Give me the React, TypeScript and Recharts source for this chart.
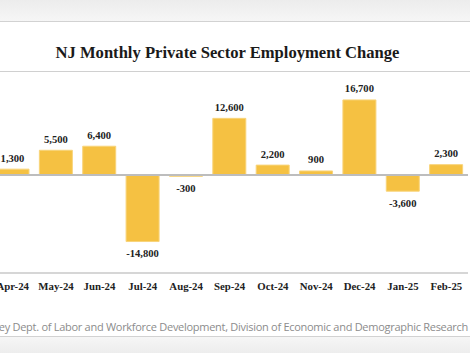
import React from 'react';
import { BarChart, Bar, XAxis, YAxis, ReferenceLine, LabelList } from 'recharts';

const months = ['Apr-24', 'May-24', 'Jun-24', 'Jul-24', 'Aug-24', 'Sep-24', 'Oct-24', 'Nov-24', 'Dec-24', 'Jan-25', 'Feb-25'];
const change = [1300, 5500, 6400, -14800, -300, 12600, 2200, 900, 16700, -3600, 2300];

const title = 'NJ Monthly Private Sector Employment Change';
const source = 'Source: New Jersey Dept. of Labor and Workforce Development, Division of Economic and Demographic Research';

const data = months.map((month, i) => ({ month, value: change[i] }));

const serif = '"Liberation Serif", "DejaVu Serif", serif';

// value label above positive bars, below negative ones
const ValueLabel = (props: any) => {
    const { x = 0, y = 0, width = 0, height = 0, value } = props;
    const v = Number(value);
    const cx = x + width / 2;
    const top = Math.min(y, y + height);
    const bottom = Math.max(y, y + height);
    const ty = v >= 0 ? top - 11 : bottom + 12;
    return (
        <text
            x={cx}
            y={ty}
            textAnchor="middle"
            dominantBaseline="central"
            fontFamily={serif}
            fontWeight="bold"
            fontSize={10.6}
            fill="#222"
        >
            {v.toLocaleString('en-US')}
        </text>
    );
};

export default function App() {
    return (
        <div
            style={{
                position: 'absolute',
                left: 0,
                top: 0,
                width: 470,
                height: 353,
                overflow: 'hidden',
                background: '#fff',
            }}
        >
            {/* top page band */}
            <div style={{ position: 'absolute', left: 0, top: 0, width: 470, height: 21, background: 'linear-gradient(#ececec, #f6f6f6)' }} />
            <div style={{ position: 'absolute', left: 0, top: 21, width: 470, height: 1, background: '#d2d2d2' }} />

            <div
                style={{
                    position: 'absolute',
                    left: 0,
                    top: 43,
                    width: 455,
                    textAlign: 'center',
                    fontFamily: serif,
                    fontWeight: 'bold',
                    fontSize: 16.6,
                    color: '#1a1a1a',
                    whiteSpace: 'nowrap',
                }}
            >
                {title}
            </div>
            <div style={{ position: 'absolute', left: 0, top: 71, width: 470, height: 1, background: '#d0d0d0' }} />

            <div style={{ position: 'absolute', left: -9, top: 0 }}>
                <BarChart
                    width={477}
                    height={303}
                    data={data}
                    margin={{ top: 77, right: 0, bottom: 0, left: 0 }}
                    barCategoryGap={0}
                >
                    <YAxis hide domain={[-21800, 21800]} />
                    <XAxis
                        dataKey="month"
                        height={30}
                        axisLine={{ stroke: '#c8c8c8', strokeWidth: 1.5 }}
                        tickLine={false}
                        tickSize={0}
                        tickMargin={9}
                        interval={0}
                        tick={{ fontFamily: serif, fontWeight: 'bold', fontSize: 10.8, fill: '#222' }}
                    />
                    <Bar dataKey="value" fill="#F5C142" stroke="#F8D47A" strokeWidth={1} barSize={33} isAnimationActive={false}>
                        <LabelList dataKey="value" content={<ValueLabel />} />
                    </Bar>
                    <ReferenceLine y={0} stroke="#bdbdbd" strokeWidth={2} />
                </BarChart>
            </div>

            <div
                style={{
                    position: 'absolute',
                    right: 2,
                    top: 319,
                    whiteSpace: 'nowrap',
                    fontFamily: '"Open Sans", sans-serif',
                    fontSize: 11,
                    letterSpacing: -0.28,
                    color: '#8c8c8c',
                }}
            >
                {source}
            </div>

            {/* bottom page band */}
            <div style={{ position: 'absolute', left: 0, top: 336, width: 470, height: 1, background: '#d2d2d2' }} />
            <div style={{ position: 'absolute', left: 0, top: 337, width: 470, height: 16, background: 'linear-gradient(#f6f6f6, #ededed)' }} />
        </div>
    );
}
